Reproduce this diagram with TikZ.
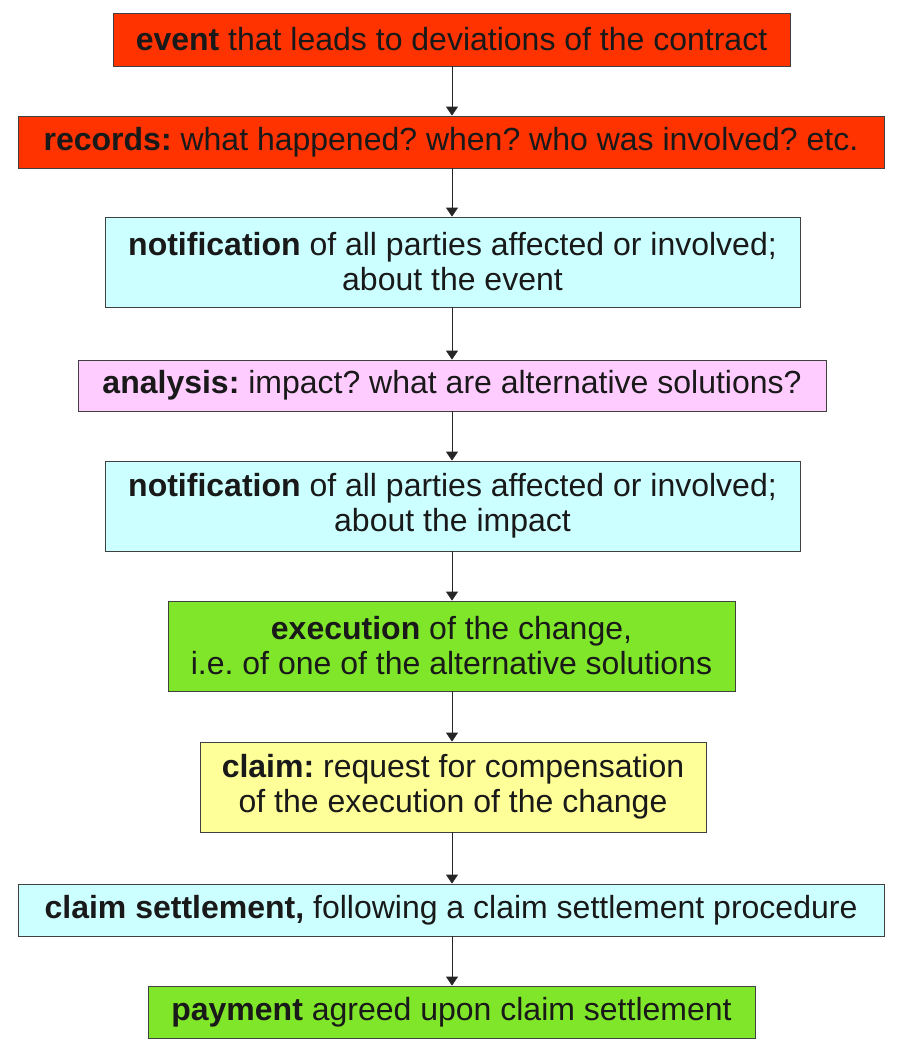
\documentclass[tikz,border=0pt]{standalone}
\usepackage{fontspec}
\setmainfont{Liberation Sans}
\usetikzlibrary{arrows.meta}
\definecolor{cred}{HTML}{FF3300}
\definecolor{ccyan}{HTML}{CCFFFF}
\definecolor{cpink}{HTML}{FFCCFF}
\definecolor{cgreen}{HTML}{80E62A}
\definecolor{cyellow}{HTML}{FFFF99}
\frenchspacing
\tikzset{
  box/.style={draw=black!75, line width=0.8pt, inner sep=0pt, align=center,
    font=\fontsize{32}{35}\selectfont, text=black!90},
  conn/.style={draw=black!85, line width=0.8pt, -{Triangle[width=12pt,length=9pt]}}
}
\newcommand{\bx}[7]{% name, x1, y1, x2, y2, color, text
  \node[box, fill=#6, minimum width={#4-#2}, minimum height={#5-#3}] (#1) at ({(#2+#4)/2}, {-(#3+#5)/2}) {#7};}
\begin{document}
\begin{tikzpicture}[x=1pt,y=1pt]
\useasboundingbox (0,0) rectangle (905,-1049);
\bx{event}{113}{13}{790}{66}{cred}{\textbf{event} that leads to deviations of the contract}
\bx{records}{18}{116}{884}{168}{cred}{\textbf{records:} what happened? when? who was involved? etc.}
\bx{notif1}{105}{217}{800}{307}{ccyan}{\textbf{notification} of all parties affected or involved;\\ about the event}
\bx{analysis}{78}{360}{826}{411}{cpink}{\textbf{analysis:} impact? what are alternative solutions?}
\bx{notif2}{105}{461}{800}{551}{ccyan}{\textbf{notification} of all parties affected or involved;\\ about the impact}
\bx{exec}{168}{601}{735}{691}{cgreen}{\textbf{execution} of the change,\\ i.e. of one of the alternative solutions}
\bx{claim}{200}{742}{706}{832}{cyellow}{\textbf{claim:} request for compensation\\ of the execution of the change}
\bx{settle}{18}{884}{884}{936}{ccyan}{\textbf{claim settlement,} following a claim settlement procedure}
\bx{pay}{148}{986}{755}{1038}{cgreen}{\textbf{payment} agreed upon claim settlement}
\foreach \a/\b in {event/records,records/notif1,notif1/analysis,analysis/notif2,notif2/exec,exec/claim,claim/settle,settle/pay}{
  \draw[conn] (\a.south -| 452,0) -- (\b.north -| 452,0);
}
\end{tikzpicture}
\end{document}
